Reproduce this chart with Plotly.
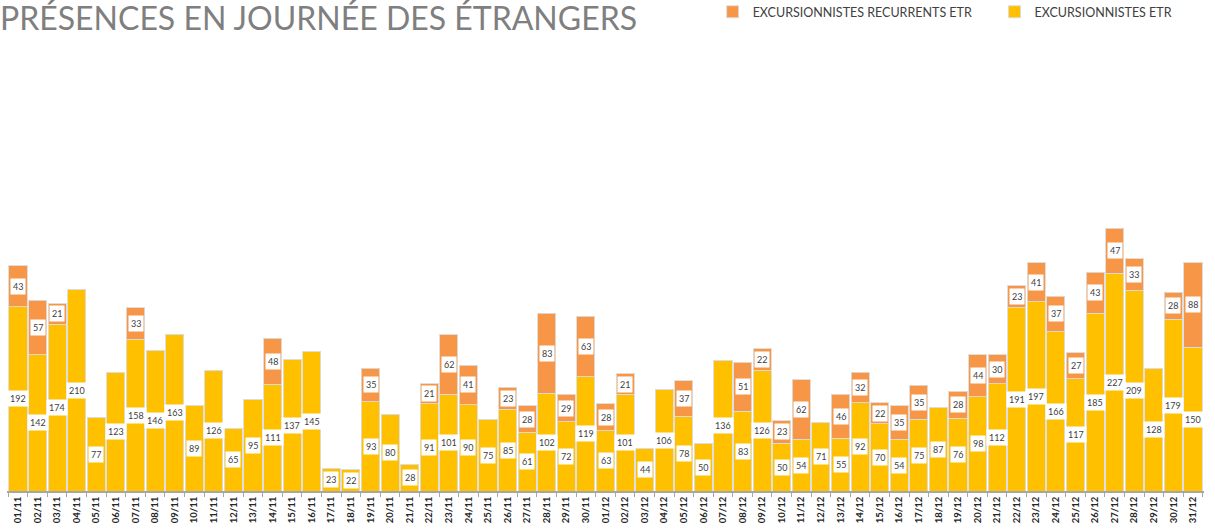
import plotly.graph_objects as go

dates = [f"{d:02d}/11" for d in range(1, 31)] + [f"{d:02d}/12" for d in range(1, 32)]

excursionnistes = [192, 142, 174, 210, 77, 123, 158, 146, 163, 89, 126, 65, 95, 111, 137, 145,
                   23, 22, 93, 80, 28, 91, 101, 90, 75, 85, 61, 102, 72, 119,
                   63, 101, 44, 106, 78, 50, 136, 83, 126, 50, 54, 71, 55, 92, 70, 54, 75, 87,
                   76, 98, 112, 191, 197, 166, 117, 185, 227, 209, 128, 179, 150]

recurrents = [43, 57, 21, 0, 0, 0, 33, 0, 0, 0, 0, 0, 0, 48, 0, 0,
              0, 0, 35, 0, 0, 21, 62, 41, 0, 23, 28, 83, 29, 63,
              28, 21, 0, 0, 37, 0, 0, 51, 22, 23, 62, 0, 46, 32, 22, 35, 35, 0,
              28, 44, 30, 23, 41, 37, 27, 43, 47, 33, 0, 28, 88]

YELLOW = "#FFC000"
ORANGE = "#F79646"

fig = go.Figure()
fig.add_trace(go.Bar(x=dates, y=excursionnistes, name="EXCURSIONNISTES ETR", legend="legend2",
                     marker=dict(color=YELLOW, line=dict(color="rgba(220,220,220,0.9)", width=1))))
fig.add_trace(go.Bar(x=dates, y=recurrents, name="EXCURSIONNISTES RECURRENTS ETR", legend="legend",
                     marker=dict(color=ORANGE, line=dict(color="rgba(220,220,220,0.9)", width=1))))

lbl_font = dict(size=9, color="#404040", family="Lato")
annotations = []
for d, a, b in zip(dates, excursionnistes, recurrents):
    annotations.append(dict(x=d, y=a / 2, text=str(a), showarrow=False,
                            bgcolor="white", font=lbl_font, borderpad=2, xref="x", yref="y"))
    if b > 0:
        annotations.append(dict(x=d, y=a + b / 2, text=str(b), showarrow=False,
                                bgcolor="white", font=lbl_font, borderpad=2, xref="x", yref="y"))

annotations.append(dict(text="PRÉSENCES EN JOURNÉE DES ÉTRANGERS", xref="paper", yref="paper",
                        x=-0.0075, y=1.0, xanchor="left", yanchor="bottom", showarrow=False,
                        font=dict(size=32, color="#7F7F7F", family="Lato"), yshift=1))

leg_font = dict(size=12.5, color="#404040", family="Lato")
fig.update_layout(
    width=1215, height=530,
    barmode="stack", bargap=0.08,
    plot_bgcolor="white", paper_bgcolor="white",
    margin=dict(l=7, r=11, t=40, b=39, autoexpand=False),
    annotations=annotations,
    showlegend=True,
    legend=dict(orientation="h", x=0.5895, xanchor="left", y=1.095, yref="paper",
                yanchor="top", font=leg_font),
    legend2=dict(orientation="h", x=0.825, xanchor="left", y=1.095, yref="paper",
                 yanchor="top", font=leg_font),
    xaxis=dict(type="category", tickangle=-90, ticks="outside", tickson="boundaries",
               ticklen=4, tickcolor="#A6A6A6", showline=True, linecolor="#A6A6A6", linewidth=2,
               tickfont=dict(size=9.5, color="#262626", family="Lato", weight="bold"),
               showgrid=False, automargin=False),
    yaxis=dict(range=[0, 470], visible=False, showgrid=False, zeroline=False),
)

fig.write_html("out.html", config={"displayModeBar": False},
               post_script="document.body.style.margin='0';")
